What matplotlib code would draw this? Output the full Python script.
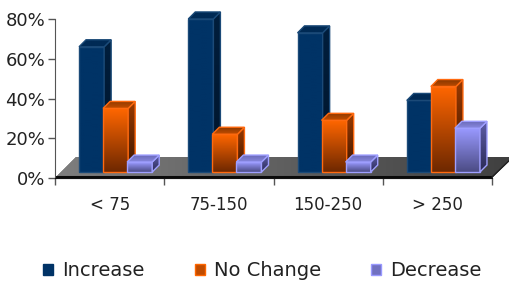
import numpy as np
import matplotlib
matplotlib.use('Agg')
import matplotlib.pyplot as plt
from matplotlib.patches import Polygon, Patch
from matplotlib.colors import LinearSegmentedColormap

categories = ['< 75', '75-150', '150-250', '> 250']
series_names = ['Increase', 'No Change', 'Decrease']
increase = [63, 77, 70, 36]
no_change = [32, 19, 26, 43]
decrease = [5, 5, 5, 22]
y_ticks = [0, 20, 40, 60, 80]
y_tick_labels = ['0%', '20%', '40%', '60%', '80%']

W, H = 509, 284
fig = plt.figure(figsize=(W / 100, H / 100), dpi=100)
ax = fig.add_axes([55 / W, 1 - 178 / H, 437 / W, 159 / H])
ax.set_xlim(-0.5, 3.5)
ax.set_ylim(0, 80)
ax.set_autoscale_on(False)

# pixel -> data scale
SX = 4.0 / 437
SY = 80.0 / 159


def grad(patch, c_top, c_bot, extent, z, poly=True, horizontal=False):
    cmap = LinearSegmentedColormap.from_list('g', [c_bot, c_top])
    if horizontal:
        arr = np.linspace(1, 0, 64).reshape(1, -1)
    else:
        arr = np.linspace(0, 1, 64).reshape(-1, 1)
    im = ax.imshow(arr, cmap=cmap, extent=extent, origin='lower', aspect='auto',
                   interpolation='bilinear', zorder=z)
    im.set_clip_path(patch)
    if poly:
        im.set_clip_box(fig.bbox)
    return im


# floor
fdx, fdy = 21 * SX, 21 * SY
floor_pts = [(-0.5, 0), (3.5, 0), (3.5 + fdx, fdy), (-0.5 + fdx, fdy)]
floor = Polygon(floor_pts, closed=True, facecolor='#5a5a5a', edgecolor='none', clip_on=False, zorder=1)
ax.add_patch(floor)
grad(floor, '#7e7e7e', '#404040', (-0.5, 3.5 + fdx, 0, fdy), 1.1, horizontal=True)
ax.plot([-0.5, 3.5], [0.5, 0.5], color='#0a0a0a', lw=2.2, clip_on=False, zorder=1.2, solid_capstyle='butt')
ax.plot([3.5, 3.5 + fdx], [0.5, fdy], color='#202020', lw=1, clip_on=False, zorder=1.2)

series = [increase, no_change, decrease]
offs = [-0.22, 0.0, 0.22]
width = 0.23
bdx, bdy = 6 * SX, 6 * SY
ddx, ddy = 7 * SX, 7 * SY

styles = [
    dict(front=('#003366', '#003366'), side=('#001e3d', '#00152b'), top=('#002a55', '#002a55'), edge='#1b4a78'),
    dict(front=('#ff6600', '#6e2800'), side=('#9a3a00', '#3a1400'), top=('#8a3800', '#c04c00'), edge='#ff6a10'),
    dict(front=('#9999ff', '#4c4c85'), side=('#5c5ca8', '#2a2a55'), top=('#6a6ab8', '#8888e0'), edge='#9f9fff'),
]

z = 2
for gi in range(len(categories)):
    for si, vals in enumerate(series):
        v = vals[gi]
        st = styles[si]
        x0 = gi + offs[si] - width / 2 + bdx
        x1 = x0 + width
        b = bdy
        bars = ax.bar([gi + offs[si] + bdx], [v], width, bottom=b, color=st['front'][1],
                      edgecolor='none', zorder=z, clip_on=False)
        rect = bars[0]
        grad(rect, st['front'][0], st['front'][1], (x0, x1, b, b + v), z + 0.1, poly=False)
        ax.add_patch(Polygon([(x0, b), (x1, b), (x1, b + v), (x0, b + v)], closed=True, fill=False,
                             edgecolor=st['edge'], lw=1, zorder=z + 0.2, clip_on=False))
        side = Polygon([(x1, b), (x1, b + v), (x1 + ddx, b + v + ddy), (x1 + ddx, b + ddy)], closed=True,
                       facecolor=st['side'][1], edgecolor='none', zorder=z + 0.3, clip_on=False)
        ax.add_patch(side)
        grad(side, st['side'][0], st['side'][1], (x1, x1 + ddx, b, b + v + ddy), z + 0.4)
        ax.add_patch(Polygon(side.get_xy(), closed=True, fill=False, edgecolor=st['edge'], lw=1,
                             zorder=z + 0.5, clip_on=False))
        top = Polygon([(x0, b + v), (x1, b + v), (x1 + ddx, b + v + ddy), (x0 + ddx, b + v + ddy)], closed=True,
                      facecolor=st['top'][0], edgecolor='none', zorder=z + 0.6, clip_on=False)
        ax.add_patch(top)
        grad(top, st['top'][0], st['top'][1], (x0, x1 + ddx, b + v, b + v + ddy), z + 0.7)
        ax.add_patch(Polygon(top.get_xy(), closed=True, fill=False, edgecolor=st['edge'], lw=1,
                             zorder=z + 0.8, clip_on=False))
        z += 1

ax.set_xlim(-0.5, 3.5)
ax.set_ylim(0, 80)

# axes styling
for s in ['top', 'right']:
    ax.spines[s].set_visible(False)
ax.spines['left'].set_color('#555555')
ax.spines['bottom'].set_color('#111111')
ax.set_yticks(y_ticks)
ax.set_yticklabels(y_tick_labels)
ax.set_xticks([-0.5, 0.5, 1.5, 2.5, 3.5])
ax.set_xticklabels([])
ax.set_xticks(range(len(categories)), minor=True)
ax.set_xticklabels(categories, minor=True)
ax.tick_params(axis='y', length=5, width=1, color='#555555', pad=2, labelsize=13, labelcolor='#222222')
ax.tick_params(axis='x', which='major', length=5, width=1, color='#555555')
ax.tick_params(axis='x', which='minor', length=0, pad=13, labelsize=12, labelcolor='#222222')

handles = [Patch(facecolor='#003366', edgecolor='#003366'),
           Patch(facecolor='#c04c00', edgecolor='#ff6600'),
           Patch(facecolor='#7070c0', edgecolor='#9999ff')]
fig.legend(handles, series_names, loc='center', bbox_to_anchor=(0.515, 0.046), ncol=3, frameon=False,
           fontsize=14, handlelength=0.52, handleheight=0.52, handletextpad=0.45, columnspacing=2.6,
           labelcolor='#222222')

fig.savefig('out.png', dpi=100)
